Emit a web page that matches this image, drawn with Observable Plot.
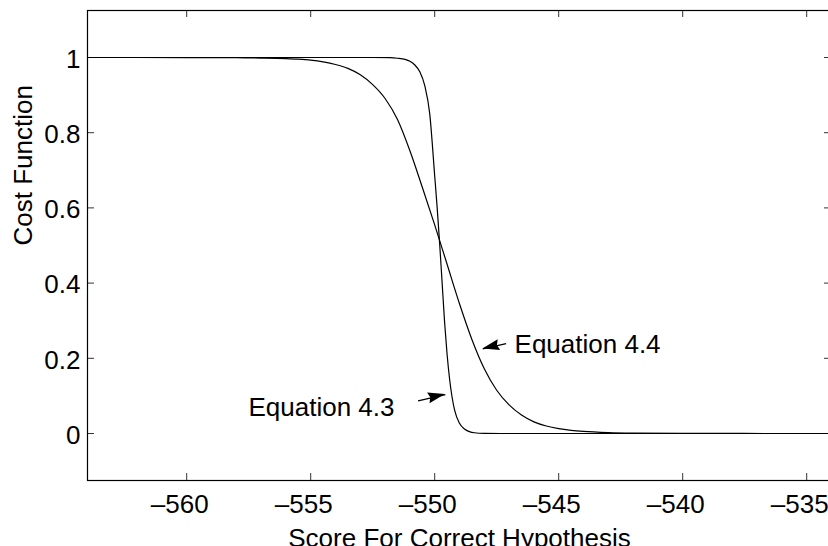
<!DOCTYPE html>
<html><head><meta charset="utf-8">
<script src="https://cdn.jsdelivr.net/npm/d3@7"></script>
<script src="https://cdn.jsdelivr.net/npm/@observablehq/plot@0.6"></script>
<style>
html,body{margin:0;padding:0;background:#fff;overflow:hidden;}
#chart svg{max-width:none !important;display:block;}
</style></head><body><div id="chart"></div>
<script>
// Equation 4.3 (steep curve)
const eq43X = [-564, -552.5, -551.8, -551.5, -551.2, -551.0, -550.8, -550.6, -550.4, -550.2, -550.0, -549.9, -549.8, -549.7, -549.6, -549.5, -549.4, -549.3, -549.2, -549.0, -548.8, -548.6, -548.4, -548.0, -547.0, -534];
const eq43Y = [1, 1, 0.9995, 0.998, 0.995, 0.99, 0.98, 0.962, 0.925, 0.85, 0.685, 0.60, 0.505, 0.40, 0.295, 0.21, 0.145, 0.097, 0.063, 0.027, 0.012, 0.005, 0.002, 0.0005, 0, 0];
// Equation 4.4 (gentle curve)
const eq44X = [-564, -560, -558, -557, -556, -555.5, -555, -554.5, -554, -553.5, -553, -552.5, -552, -551.5, -551, -550.5, -550, -549.5, -549, -548.5, -548, -547.5, -547, -546.5, -546, -545.5, -545, -544.5, -544, -543, -542, -540, -534];
const eq44Y = [1, 0.9999, 0.9993, 0.9985, 0.997, 0.9955, 0.993, 0.9885, 0.9815, 0.971, 0.954, 0.928, 0.891, 0.835, 0.752, 0.655, 0.555, 0.45, 0.345, 0.25, 0.172, 0.115, 0.076, 0.049, 0.031, 0.02, 0.013, 0.0085, 0.0055, 0.0023, 0.001, 0.0002, 0];

const xTicks = [-560, -555, -550, -545, -540, -535];
const yTicks = [0, 0.2, 0.4, 0.6, 0.8, 1];
const xDomain = [-564, -534];
const yDomain = [-0.125, 1.125];
const xLabel = "Score For Correct Hypothesis";
const yLabel = "Cost Function";

const annLabels = ["Equation 4.3", "Equation 4.4"];
const annTextX = [-557.51, -546.78];
const annTextY = [0.070, 0.237];
const arrowFromX = [-550.67, -547.12];
const arrowFromY = [0.087, 0.239];
const arrowToX = [-549.57, -548.06];
const arrowToY = [0.1037, 0.225];

const W = 831, H = 560, mL = 87, mT = 10, mB = 80, mR = 0;
const innerW = W - mL - mR, innerH = H - mT - mB;
const tickLen = 7;
const font = "'Liberation Sans', Arial, Helvetica, sans-serif";
const fs = 26;

const eq43 = eq43X.map((x, i) => ({x, y: eq43Y[i]}));
const eq44 = eq44X.map((x, i) => ({x, y: eq44Y[i]}));
const ann = annLabels.map((t, i) => ({t, x: annTextX[i], y: annTextY[i]}));
const arrows = arrowFromX.map((_, i) => ({x1: arrowFromX[i], y1: arrowFromY[i], x2: arrowToX[i], y2: arrowToY[i]}));
const fmtX = d => (d < 0 ? "\u2013" : "") + Math.abs(d);
const fmtY = d => String(d);

const plot = Plot.plot({
  width: W, height: H,
  marginLeft: mL, marginTop: mT, marginBottom: mB, marginRight: mR,
  style: {fontFamily: font, fontSize: fs + "px", background: "#fff", color: "#000"},
  x: {domain: xDomain},
  y: {domain: yDomain},
  marks: [
    Plot.tickX(xTicks, {x: d => d, insetTop: innerH - tickLen, stroke: "#333"}),
    Plot.tickX(xTicks, {x: d => d, insetBottom: innerH - tickLen, stroke: "#333"}),
    Plot.tickY(yTicks, {y: d => d, insetRight: innerW - tickLen, stroke: "#333"}),
    Plot.tickY(yTicks, {y: d => d, insetLeft: innerW - tickLen, stroke: "#333"}),
    Plot.line(eq43, {x: "x", y: "y", curve: "monotone-x", stroke: "#000", strokeWidth: 1.2}),
    Plot.line(eq44, {x: "x", y: "y", curve: "monotone-x", stroke: "#000", strokeWidth: 1.2}),
    Plot.frame({stroke: "#000", strokeWidth: 1.2}),
    Plot.axisX({ticks: xTicks, tickSize: 0, tickPadding: 14, tickFormat: fmtX, dx: -7, fontSize: fs, label: null, fill: "#000"}),
    Plot.axisY({ticks: yTicks, tickSize: 0, tickPadding: 7, tickFormat: fmtY, dy: 2, fontSize: fs, label: null, fill: "#000"}),
    Plot.text([xLabel], {text: d => d, frameAnchor: "bottom", dy: 66, fontSize: fs, fill: "#000"}),
    Plot.text([yLabel], {text: d => d, frameAnchor: "left", rotate: -90, dx: -64, fontSize: fs, fill: "#000"}),
    Plot.text(ann, {x: "x", y: "y", text: "t", textAnchor: "start", fontSize: fs, fill: "#000"}),
    Plot.link(arrows, {x1: "x1", y1: "y1", x2: "x2", y2: "y2", stroke: "#000", strokeWidth: 1.3})
  ]
});

const sx = plot.scale("x"), sy = plot.scale("y");
const svg = d3.select(plot);
arrows.forEach(a => {
  const x1 = sx.apply(a.x1), y1 = sy.apply(a.y1);
  const x2 = sx.apply(a.x2), y2 = sy.apply(a.y2);
  const ang = Math.atan2(y2 - y1, x2 - x1);
  const L = 17, w = 5.5, notch = 2;
  const cx = Math.cos(ang), cy = Math.sin(ang);
  const bx = x2 - L * cx, by = y2 - L * cy;
  const px = -cy * w, py = cx * w;
  svg.append("path")
    .attr("d", `M${x2},${y2}L${bx + px},${by + py}L${bx + notch * cx},${by + notch * cy}L${bx - px},${by - py}Z`)
    .attr("fill", "#000");
});

document.getElementById("chart").appendChild(plot);
</script>
</body></html>
